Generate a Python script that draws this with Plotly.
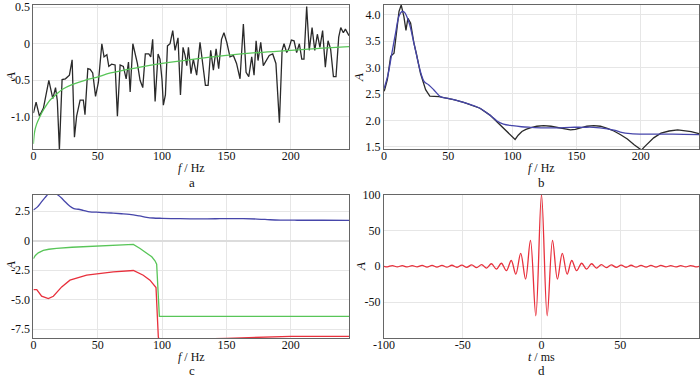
import plotly.graph_objects as go

# ---------------- panel a ----------------
a_freq = [0, 2.1, 4.7, 7.8, 12.0, 15.1, 17.2, 18.6, 20.2, 22.3, 24.9, 28.0, 30.1, 31.9, 33.6, 36.3,
          38.8, 40.1, 42.3, 44.1, 46.1, 48.3, 50.5, 53.2, 54.9, 57.1, 58.6, 60.8, 63.5, 65.3, 67.4,
          69.9, 72.1, 73.9, 75.2, 77.3, 80.8, 82.9, 85.0, 87.0, 89.7, 91.2, 92.7, 94.6, 96.9, 98.4,
          100.0, 101.0, 102.6, 104.2, 106.2, 108.3, 110.1, 112.4, 114.3, 116.3, 117.9, 119.2, 120.5,
          122.5, 124.3, 126.9, 129.5, 131.6, 133.7, 135.8, 137.8, 139.9, 142.0, 144.0, 146.2, 148.1,
          150.3, 152.8, 155.4, 157.9, 160.6, 163.2, 165.3, 167.4, 169.7, 171.5, 173.1, 174.6, 176.7,
          178.7, 181.3, 183.3, 186.0, 188.5, 191.2, 193.3, 194.8, 196.9, 198.5, 200.5, 202.6, 204.6,
          206.7, 208.6, 210.3, 212.4, 214.4, 216.6, 218.7, 220.7, 222.7, 224.8, 226.9, 229.0, 231.0,
          233.2, 235.2, 237.3, 238.9, 240.9, 242.5, 245.3]
a_amp = [-0.95, -0.80, -0.99, -0.88, -0.50, -0.75, -0.60, -0.78, -1.45, -0.49, -0.48, -0.43, -0.22,
         -1.28, -0.99, -0.77, -0.77, -0.97, -0.34, -0.35, -0.40, -0.72, -0.53, 0.0, -0.18, -0.15,
         -0.31, -0.28, -0.29, -0.99, -0.29, -0.31, -0.48, -0.25, -0.66, 0.0, -0.27, -0.50, -0.60,
         -0.14, -0.14, -0.18, 0.06, -0.79, -0.14, -0.21, -0.50, -0.84, -0.70, -0.03, 0.0, 0.18,
         -0.09, 0.08, -0.70, -0.05, -0.16, -0.30, -0.05, -0.41, -0.21, -0.43, 0.02, -0.32, -0.57,
         -0.57, -0.09, -0.36, -0.07, -0.34, 0.06, 0.15, 0.02, -0.18, -0.16, -0.27, -0.48, 0.27,
         -0.39, -0.45, -0.18, -0.43, 0.04, -0.23, 0.02, -0.30, -0.23, -0.16, -0.14, -0.27, -1.08,
         -0.09, 0.0, -0.12, -0.07, 0.05, 0.04, -0.12, 0.0, -0.21, -0.21, 0.51, -0.09, 0.22, -0.09,
         0.13, -0.05, 0.18, -0.32, 0.04, -0.07, -0.45, -0.45, 0.09, 0.22, 0.15, 0.20, 0.11]
a_fit_freq = [0, 1, 2.5, 5, 8, 13, 18, 23, 30, 40, 49, 60, 83, 100, 125, 150, 175, 200, 225, 245.3]
a_fit_amp = [-1.37, -1.20, -1.10, -1.00, -0.90, -0.77, -0.69, -0.62, -0.56, -0.50, -0.46, -0.40,
             -0.32, -0.27, -0.21, -0.16, -0.12, -0.09, -0.06, -0.04]

# ---------------- panel b ----------------
b_black_freq = [0, 0.5, 2.6, 5.2, 7.8, 9.8, 11.7, 13.4, 15.5, 17.1, 18.6, 20.7, 23.3, 25.4, 28.4,
                32.4, 35.7, 42.8, 49, 55, 62, 68.5, 74.7, 82.5, 90.3, 93.5, 96.9, 99.5, 102.1,
                104.5, 107.4, 110.5, 113.9, 119, 124.3, 130, 134.8, 140, 145.2, 149, 153, 158,
                163.4, 168.5, 173.9, 179, 184.3, 189.5, 194.8, 198, 200.5, 202.8, 205.2, 210,
                215.7, 222, 228.7, 234, 239.2, 245.3]
b_black_amp = [2.55, 2.58, 2.77, 3.21, 3.27, 3.71, 4.06, 4.18, 3.96, 3.70, 3.93, 3.84, 3.46, 3.24,
               2.89, 2.58, 2.46, 2.45, 2.42, 2.39, 2.34, 2.29, 2.23, 2.10, 1.92, 1.84, 1.76, 1.70,
               1.64, 1.72, 1.79, 1.83, 1.86, 1.89, 1.90, 1.89, 1.87, 1.84, 1.82, 1.83, 1.86, 1.89,
               1.90, 1.89, 1.85, 1.80, 1.73, 1.65, 1.54, 1.48, 1.44, 1.50, 1.56, 1.67, 1.76, 1.80,
               1.82, 1.81, 1.79, 1.75]
b_blue_freq = [0, 3, 6, 9, 11.7, 14.2, 16, 19.6, 23.3, 28.4, 31.4, 34.9, 38.7, 43.9, 49, 55, 62,
               68.5, 74.7, 82.5, 88, 93, 100, 107, 114, 124, 135, 145, 155, 163, 174, 180, 184,
               192, 205, 225, 245.3]
b_blue_amp = [2.60, 2.85, 3.25, 3.65, 3.97, 4.06, 4.04, 3.84, 3.46, 2.92, 2.73, 2.67, 2.58, 2.45,
              2.42, 2.39, 2.34, 2.29, 2.23, 2.10, 1.99, 1.93, 1.90, 1.88, 1.87, 1.86, 1.86, 1.87,
              1.87, 1.87, 1.84, 1.81, 1.78, 1.75, 1.74, 1.74, 1.73]

# ---------------- panel c ----------------
c_green_freq = [0, 1.5, 3.8, 7.7, 12, 18, 30, 40, 50, 66, 77.7, 82.9, 88.1, 92, 94.5, 95.8, 97.9, 245.3]
c_green_amp = [-1.52, -1.25, -1.02, -0.82, -0.72, -0.64, -0.55, -0.50, -0.45, -0.37, -0.31, -0.65,
               -1.08, -1.36, -1.70, -1.98, -6.40, -6.40]
c_red_freq = [0, 2.6, 6.4, 11.6, 15.5, 22, 28.4, 41.4, 62.1, 77.7, 85.4, 90.6, 95.3, 97.1, 98.5,
              120, 150, 175, 190, 200, 245.3]
c_red_amp = [-4.14, -4.14, -4.70, -4.90, -4.70, -3.91, -3.34, -2.92, -2.63, -2.52, -2.92, -3.34,
             -3.97, -8.16, -8.60, -8.35, -8.27, -8.18, -8.12, -8.10, -8.10]

# ---------------- panel d ----------------
d_time = [-100, -97.9, -94.7, -91.6, -88.4, -85.3, -82.1, -79.0, -75.8, -72.7, -69.5, -66.4, -63.2,
          -60.1, -56.9, -53.8, -50.6, -47.5, -44.3, -41.2, -38.0, -34.9, -31.8, -28.6, -25.5, -22.3,
          -19.2, -16.3, -13.2, -10.1, -7.0, -3.6, 0, 3.6, 7.0, 10.1, 13.2, 16.3, 19.2, 22.3, 25.5,
          28.6, 31.8, 34.9, 38.0, 41.2, 44.3, 47.5, 50.6, 53.8, 56.9, 60.1, 63.2, 66.4, 69.5, 72.7,
          75.8, 79.0, 82.1, 85.3, 88.4, 91.6, 94.7, 97.9, 100]
d_amp = [0, -0.8, 0.9, -0.9, 0.9, -1.0, 1.0, -1.0, 1.1, -1.1, 1.2, -1.2, 1.3, -1.3, 1.4, -1.4, 1.6,
         -1.6, 1.9, -2.0, 2.3, -2.5, 3.5, -4.0, 4.2, -6.2, 8.0, -11, 18, -18, 36, -69, 100, -69, 36,
         -18, 18, -11, 8.0, -6.2, 4.2, -4.0, 3.5, -2.5, 2.3, -2.0, 1.9, -1.6, 1.6, -1.4, 1.4, -1.3,
         1.3, -1.2, 1.2, -1.1, 1.1, -1.0, 1.0, -1.0, 0.9, -0.9, 0.9, -0.8, 0]

freq_ticks = [0, 50, 100, 150, 200]
freq_ticktext = ["0", "50", "100", "150", "200"]
a_yticks = [-1.0, -0.5, 0, 0.5]
a_yticktext = ["-1.0", "-0.5", "0", "0.5"]
b_yticks = [1.5, 2.0, 2.5, 3.0, 3.5, 4.0]
b_yticktext = ["1.5", "2.0", "2.5", "3.0", "3.5", "4.0"]
c_yticks = [-7.5, -5.0, -2.5, 0, 2.5]
c_yticktext = ["-7.5", "-5.0", "-2.5", "0", "2.5"]
d_xticks = [-100, -50, 0, 50]
d_xticktext = ["-100", "-50", "0", "50"]
d_yticks = [-50, 0, 50, 100]
d_yticktext = ["-50", "0", "50", "100"]

BLACK = "#2a2a2a"
GREEN = "#58c558"
BLUE = "#4646aa"
RED = "#e8303c"
W, H = 700, 377
FONT = "Liberation Serif, Times New Roman, serif"

fig = go.Figure()
lw = 1.3
fig.add_trace(go.Scatter(x=a_freq, y=a_amp, mode="lines", line=dict(color=BLACK, width=lw), xaxis="x", yaxis="y"))
fig.add_trace(go.Scatter(x=a_fit_freq, y=a_fit_amp, mode="lines", line=dict(color=GREEN, width=lw, shape="spline"), xaxis="x", yaxis="y"))
fig.add_trace(go.Scatter(x=b_black_freq, y=b_black_amp, mode="lines", line=dict(color=BLACK, width=lw), xaxis="x2", yaxis="y2"))
fig.add_trace(go.Scatter(x=b_blue_freq, y=b_blue_amp, mode="lines", line=dict(color=BLUE, width=lw, shape="spline"), xaxis="x2", yaxis="y2"))
fig.add_trace(go.Scatter(x=b_blue_freq, y=b_blue_amp, mode="lines", line=dict(color=BLUE, width=lw, shape="spline"), xaxis="x3", yaxis="y3"))
fig.add_trace(go.Scatter(x=c_green_freq, y=c_green_amp, mode="lines", line=dict(color=GREEN, width=lw), xaxis="x3", yaxis="y3"))
fig.add_trace(go.Scatter(x=c_red_freq, y=c_red_amp, mode="lines", line=dict(color=RED, width=lw), xaxis="x3", yaxis="y3"))
fig.add_trace(go.Scatter(x=d_time, y=d_amp, mode="lines", line=dict(color=RED, width=lw, shape="spline"), xaxis="x4", yaxis="y4"))

def px_dom_x(a, b):
    return [a / W, b / W]

def px_dom_y(top, bottom):
    return [1 - bottom / H, 1 - top / H]

GRID = "#e6e6e6"
FRAME = "#666666"
tickfont = dict(family=FONT, size=12, color="#111111")

def xax(dom, anchor, rng, tv, tt):
    return dict(domain=dom, anchor=anchor, range=rng, tickvals=tv, ticktext=tt, showgrid=True,
                gridcolor=GRID, gridwidth=1, zeroline=False, showline=True, mirror=True,
                linecolor=FRAME, linewidth=1, ticks="", tickfont=tickfont, fixedrange=True,
                automargin=False, ticklabelstandoff=-4)

def yax(dom, anchor, rng, tv, tt, zl=False):
    return dict(domain=dom, anchor=anchor, range=rng, tickvals=tv, ticktext=tt, showgrid=True,
                gridcolor=GRID, gridwidth=1, zeroline=zl, zerolinecolor="#dcdcdc", zerolinewidth=2,
                showline=True, mirror=True, linecolor=FRAME, linewidth=1, ticks="",
                tickfont=tickfont, fixedrange=True, automargin=False)

xl = px_dom_x(33.4, 349)
xr = px_dom_x(384, 699)
yt = px_dom_y(5, 149)
yb = px_dom_y(194.5, 338)

fig.update_layout(
    width=W, height=H, autosize=False, showlegend=False,
    margin=dict(l=0, r=0, t=0, b=0, pad=0, autoexpand=False),
    paper_bgcolor="white", plot_bgcolor="white",
    font=dict(family=FONT, size=12, color="#111111"),
    xaxis=xax(xl, "y", [0, 245.3], freq_ticks, freq_ticktext),
    yaxis=yax(yt, "x", [-1.44, 0.53], a_yticks, a_yticktext),
    xaxis2=xax(xr, "y2", [0, 245.3], freq_ticks, freq_ticktext),
    yaxis2=yax(yt, "x2", [1.46, 4.18], b_yticks, b_yticktext),
    xaxis3=xax(xl, "y3", [0, 245.3], freq_ticks, freq_ticktext),
    yaxis3=yax(yb, "x3", [-8.24, 3.92], c_yticks, c_yticktext, zl=True),
    xaxis4=xax(xr, "y4", [-100, 100], d_xticks, d_xticktext),
    yaxis4=yax(yb, "x4", [-100, 100], d_yticks, d_yticktext),
)

def ann(text, x, y, size=13, angle=0):
    fig.add_annotation(text=text, x=x / W, y=1 - y / H, xref="paper", yref="paper",
                       showarrow=False, xanchor="center", yanchor="middle", textangle=angle,
                       font=dict(family=FONT, size=size, color="#111111"))

ann("<i>f</i> / Hz", 191.5, 168, size=12)
ann("a", 191.5, 182, size=13)
ann("<i>f</i> / Hz", 541.5, 168, size=12)
ann("b", 541.5, 182, size=13)
ann("<i>f</i> / Hz", 191.5, 357, size=12)
ann("c", 191.5, 370.5, size=13)
ann("<i>t</i> / ms", 541.5, 357, size=12)
ann("d", 541.5, 370.5, size=13)
ann("<i>A</i>", 10, 77, angle=-90)
ann("<i>A</i>", 359, 78, angle=-90)
ann("<i>A</i>", 10, 266, angle=-90)
ann("<i>A</i>", 360, 266, angle=-90)

fig.write_html("out.html", config={"displayModeBar": False},
               post_script="document.body.style.margin='0';document.body.style.overflow='hidden';")
